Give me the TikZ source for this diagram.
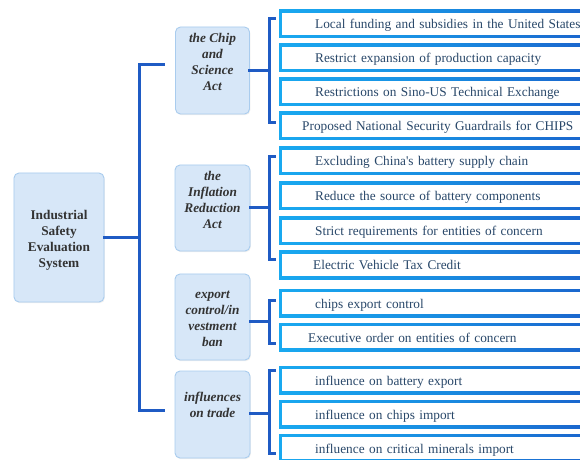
\documentclass[tikz,border=0pt]{standalone}
\usepackage{fontspec}
\setmainfont{Liberation Serif}
\usetikzlibrary{shadows}
\definecolor{connblue}{HTML}{1F5BC4}
\definecolor{boxfill}{HTML}{D7E7F8}
\definecolor{boxline}{HTML}{A9CCEE}
\definecolor{leafcyan}{HTML}{19A9F0}
\definecolor{leafdark}{HTML}{1A5CC8}
\definecolor{leaftext}{HTML}{284769}
\definecolor{headtext}{HTML}{333333}
\tikzset{
  conn/.style={draw=connblue, line width=3bp, line join=miter, line cap=rect},
  headbox/.style={rectangle, rounded corners=5bp, fill=boxfill, draw=boxline, line width=0.9bp,
    drop shadow={shadow xshift=0.8bp, shadow yshift=-1.2bp, opacity=0.12, fill=gray},
    align=center, text=headtext, inner sep=0pt,
    font=\fontsize{13.3bp}{16bp}\selectfont\bfseries\itshape},
  rootbox/.style={headbox, font=\fontsize{13.3bp}{16bp}\selectfont\bfseries},
  leaf/.style={rectangle, anchor=west, minimum height=28bp, inner ysep=0pt,
    text height=13bp, text depth=3bp,
    inner xsep=36bp, text width=270bp, align=left, text=leaftext,
    font=\fontsize{13.3bp}{16bp}\selectfont,
    left color=leafcyan, right color=leafdark, middle color=leafcyan!60!leafdark,
    path picture={\fill[white] ([shift={(2.6bp,-2.6bp)}]path picture bounding box.north west)
      rectangle ([shift={(-2.6bp,2.6bp)}]path picture bounding box.south east);}}
}
\begin{document}
\begin{tikzpicture}[x=1bp,y=-1bp]
\useasboundingbox[fill=white] (0,0) rectangle (580,460);

% root
\node[rootbox, minimum width=90bp, minimum height=129bp, text height=63bp] (root) at (59,237.5)
  {Industrial\\Safety\\Evaluation\\System};

% level 1
\node[headbox, minimum width=74bp, minimum height=87bp, text depth=18bp] (chip) at (212.5,70.5)
  {the Chip\\and\\Science\\Act};
\node[headbox, minimum width=75bp, minimum height=86bp, text depth=16bp] (ira) at (212.5,208)
  {the\\Inflation\\Reduction\\Act};
\node[headbox, minimum width=75bp, minimum height=86bp, text height=60bp] (exp) at (212.5,317)
  {export\\control/in\\vestment\\ban};
\node[headbox, minimum width=75bp, minimum height=87bp, text depth=20bp] (trade) at (212.5,414.5)
  {influences\\on trade};

% leaves
\node[leaf] (l1) at (279,24) {Local funding and subsidies in the United States};
\node[leaf] (l2) at (279,58) {Restrict expansion of production capacity};
\node[leaf] (l3) at (279,92) {Restrictions on Sino-US Technical Exchange};
\node[leaf, inner xsep=23bp, text width=296bp] (l4) at (279,126) {Proposed National Security Guardrails for CHIPS};

\node[leaf] (l5) at (279,161) {Excluding China\textquotesingle s battery supply chain};
\node[leaf] (l6) at (279,196) {Reduce the source of battery components};
\node[leaf] (l7) at (279,231) {Strict requirements for entities of concern};
\node[leaf, inner xsep=34bp, text width=274bp] (l8) at (279,265) {Electric Vehicle Tax Credit};

\node[leaf] (l9) at (279,303) {chips export control};
\node[leaf, inner xsep=29bp, text width=284bp] (l10) at (279,337) {Executive order on entities of concern};

\node[leaf] (l11) at (279,380) {influence on battery export};
\node[leaf] (l12) at (279,414) {influence on chips import};
\node[leaf] (l13) at (279,448) {influence on critical minerals import};

% main trunk
\coordinate (vx) at (139,238);
\coordinate (vtop) at (139,65);
\coordinate (vbot) at (139,410);
\coordinate (stubtop) at (163,65);
\coordinate (stubbot) at (163,410);
\draw[conn] (root.east |- vx) -- (vx);
\draw[conn] (stubtop) -- (vtop) -- (vbot) -- (stubbot);

% chip bracket
\coordinate (cj) at (269,71);
\coordinate (ct) at (269,19);
\coordinate (cb) at (269,123);
\coordinate (ctt) at (274,19);
\coordinate (cbt) at (274,123);
\draw[conn] (chip.east |- cj) -- (cj);
\draw[conn] (ctt) -- (ct) -- (cb) -- (cbt);

% inflation bracket
\coordinate (ij) at (269,208);
\coordinate (it) at (269,157);
\coordinate (ib) at (269,260);
\coordinate (itt) at (274,157);
\coordinate (ibt) at (274,260);
\draw[conn] (ira.east |- ij) -- (ij);
\draw[conn] (itt) -- (it) -- (ib) -- (ibt);

% export bracket
\coordinate (ej) at (269,321);
\coordinate (et) at (269,300);
\coordinate (eb) at (269,343);
\coordinate (ett) at (274,300);
\coordinate (ebt) at (274,343);
\draw[conn] (exp.east |- ej) -- (ej);
\draw[conn] (ett) -- (et) -- (eb) -- (ebt);

% trade bracket
\coordinate (tj) at (269,413);
\coordinate (tt) at (269,370);
\coordinate (tb) at (269,453);
\coordinate (ttt) at (274,370);
\coordinate (tbt) at (274,453);
\draw[conn] (trade.east |- tj) -- (tj);
\draw[conn] (ttt) -- (tt) -- (tb) -- (tbt);
\end{tikzpicture}
\end{document}
